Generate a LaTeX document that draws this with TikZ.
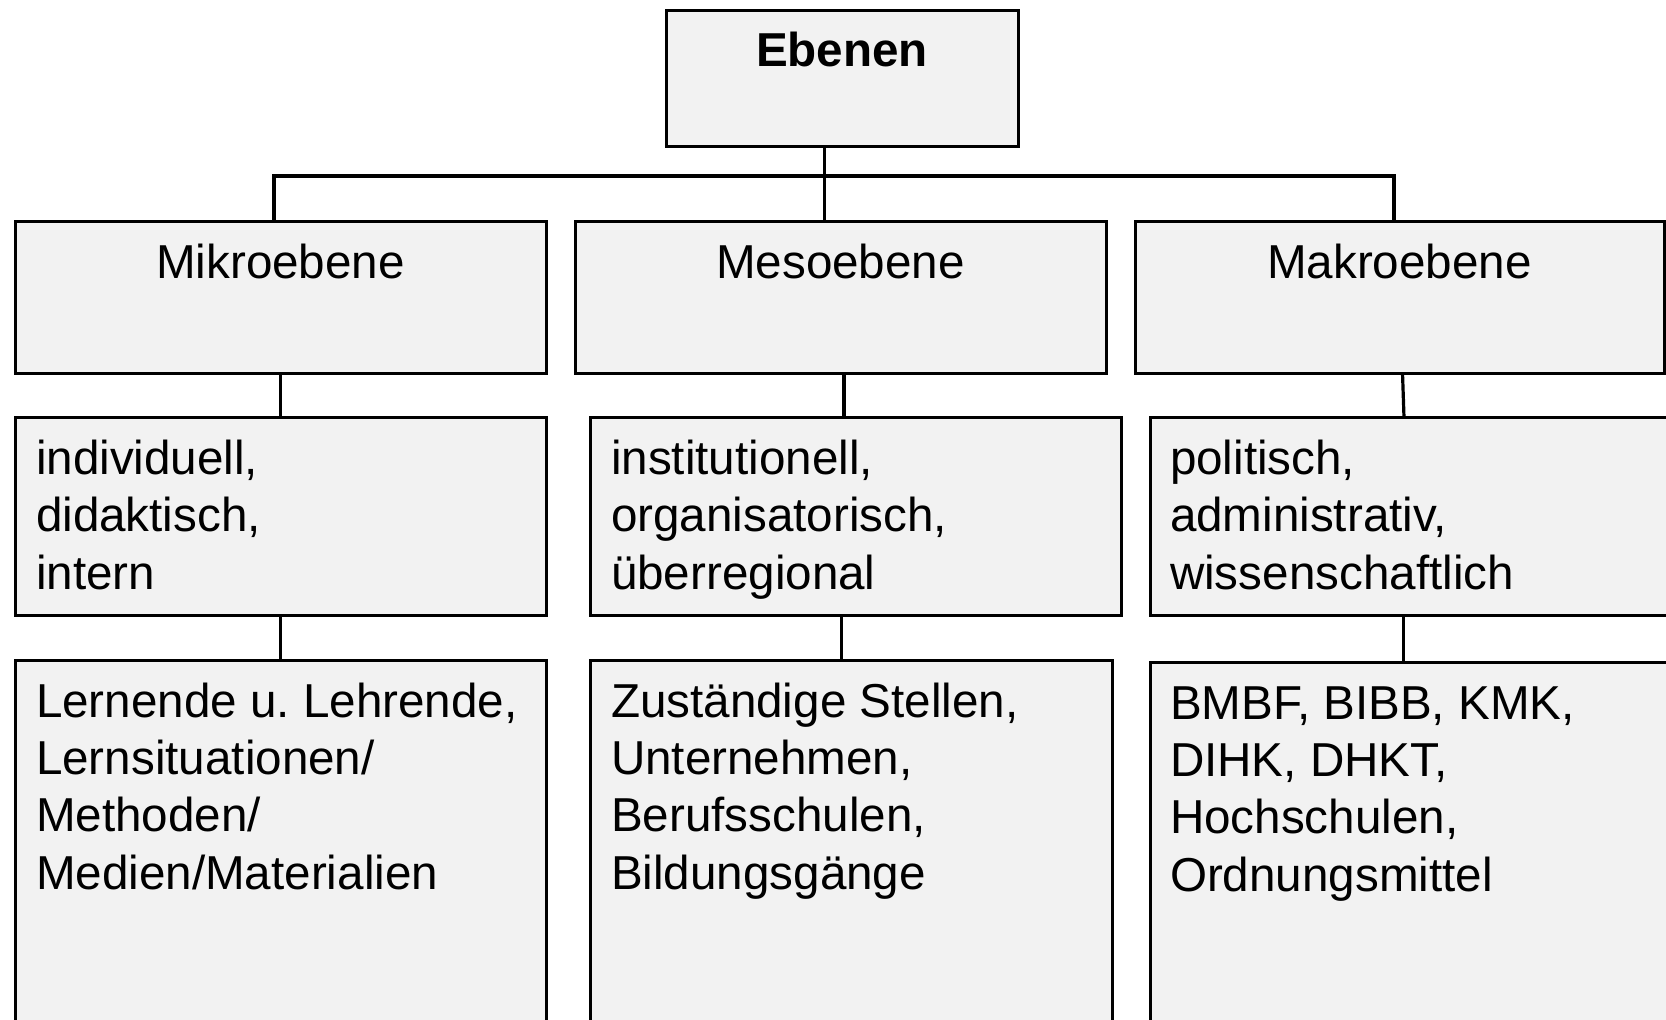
\documentclass[tikz,border=0pt]{standalone}
\usepackage{fontspec}
\setmainfont{Liberation Sans}
\usetikzlibrary{calc}
\definecolor{boxfill}{RGB}{242,242,242}
\newcommand{\toplines}[1]{\begin{tabular}[t]{@{}l@{}}#1\end{tabular}}
\frenchspacing
\begin{document}
\begin{tikzpicture}[x=1pt,y=-1pt,
  box/.style={draw=black, fill=boxfill, line width=3pt, rectangle, inner sep=0pt, outer sep=0pt, anchor=north west},
  txt/.style={inner sep=0pt, outer sep=0pt, font=\fontsize{47.6}{57.4}\selectfont},
  tbold/.style={inner sep=0pt, outer sep=0pt, font=\fontsize{47.6}{57.4}\selectfont\bfseries},
  conn/.style={line width=3.2pt},
  bus/.style={line width=4.4pt}]
\useasboundingbox (0,0) rectangle (1666,1020);
\clip (0,0) rectangle (1666,1020);
% boxes
\node[box, minimum width=352pt, minimum height=136pt] (ebenen) at (666,10) {};
\node[box, minimum width=531pt, minimum height=152pt] (mikro) at (15,221) {};
\node[box, minimum width=531pt, minimum height=152pt] (meso) at (575,221) {};
\node[box, minimum width=529pt, minimum height=152pt] (makro) at (1135,221) {};
\node[box, minimum width=531pt, minimum height=198pt] (ind) at (15,417.5) {};
\node[box, minimum width=531pt, minimum height=198pt] (inst) at (590,417.5) {};
\node[box, minimum width=530pt, minimum height=198pt] (pol) at (1150,417.5) {};
\node[box, minimum width=531pt, minimum height=400pt] (lern) at (15,660) {};
\node[box, minimum width=522.5pt, minimum height=400pt] (zust) at (590,660) {};
\node[box, minimum width=530pt, minimum height=400pt] (bmbf) at (1150,662) {};
% connectors
\coordinate (bl) at (274,176);
\coordinate (bm) at (824.5,176);
\coordinate (br) at (1394,176);
\draw[bus] ([xshift=-1.6pt]bl) -- ([xshift=1.6pt]br);
\draw[conn] (bl) -- (bl |- mikro.north);
\draw[conn] (br) -- (br |- makro.north);
\draw[conn] (ebenen.south -| bm) -- (meso.north -| bm);
\draw[conn] (mikro.south) -- (ind.north);
\draw[conn] ([xshift=3.5pt]meso.south) -- ([xshift=-11.5pt]inst.north);
\draw[conn] ([xshift=3pt]makro.south) -- ([xshift=-11pt]pol.north);
\draw[conn] (ind.south) -- (lern.north);
\draw[conn] ([xshift=-14pt]inst.south) -- ([xshift=-9.75pt]zust.north);
\draw[conn] ([xshift=-11.5pt]pol.south) -- ([xshift=-11.5pt]bmbf.north);
% texts
\node[tbold, anchor=base] (tEbenen) at ($(ebenen.north)+(0,56)$) {Ebenen};
\node[txt, anchor=base] (tMikro) at ($(mikro.north)+(0,57)$) {Mikroebene};
\node[txt, anchor=base] (tMeso) at ($(meso.north)+(0,57)$) {Mesoebene};
\node[txt, anchor=base] (tMakro) at ($(makro.north)+(0,57)$) {Makroebene};
\node[txt, anchor=base west] (tInd) at ($(ind.north west)+(21,57)$) {\toplines{individuell,\\didaktisch,\\intern}};
\node[txt, anchor=base west] (tInst) at ($(inst.north west)+(21,57)$) {\toplines{institutionell,\\organisatorisch,\\überregional}};
\node[txt, anchor=base west] (tPol) at ($(pol.north west)+(20,57)$) {\toplines{politisch,\\administrativ,\\wissenschaftlich}};
\node[txt, anchor=base west] (tLern) at ($(lern.north west)+(21,57)$) {\toplines{Lernende u. Lehrende,\\Lernsituationen/\\Methoden/\\Medien/Materialien}};
\node[txt, anchor=base west] (tZust) at ($(zust.north west)+(21,57)$) {\toplines{Zuständige Stellen,\\Unternehmen,\\Berufsschulen,\\Bildungsgänge}};
\node[txt, anchor=base west] (tBmbf) at ($(bmbf.north west)+(20,57)$) {\toplines{BMBF, BIBB, KMK,\\DIHK, DHKT,\\Hochschulen,\\Ordnungsmittel}};
\end{tikzpicture}
\end{document}
